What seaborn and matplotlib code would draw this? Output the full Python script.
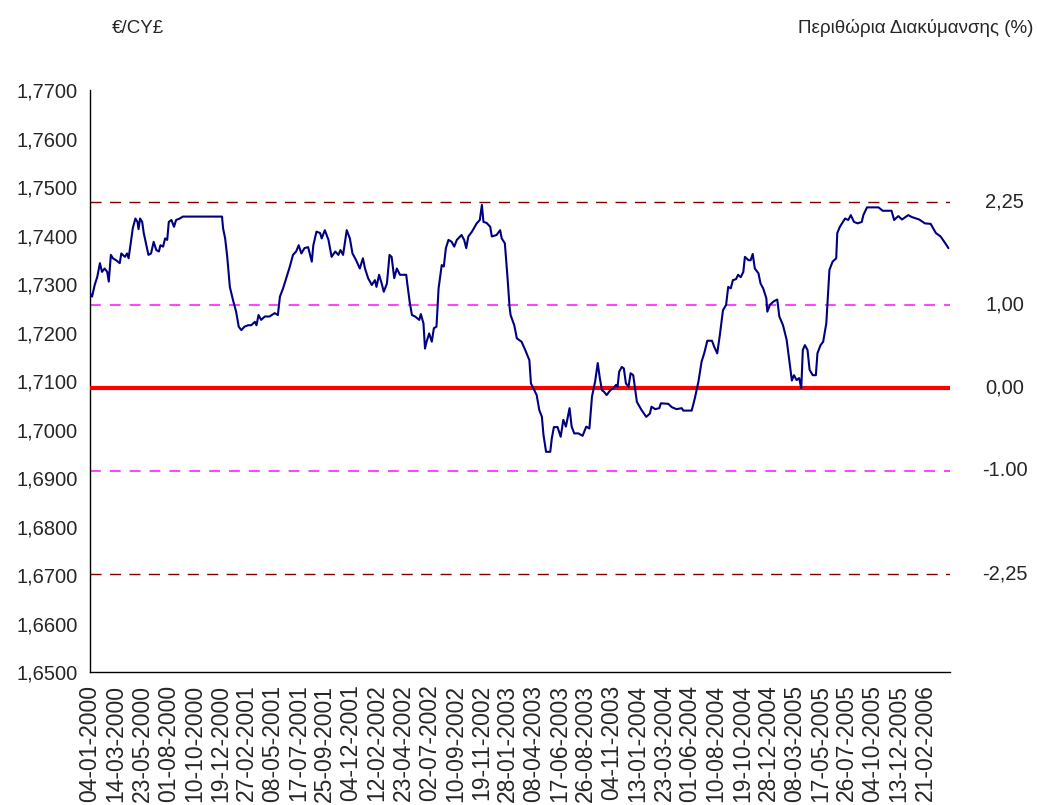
import numpy as np
import pandas as pd
import seaborn as sns
import matplotlib.pyplot as plt
import matplotlib.transforms as mtransforms
from matplotlib.ticker import FuncFormatter

# trading day number (0 = 04-01-2000) and €/CY£ rate
day = [0, 4, 9, 14, 19, 23, 28, 33, 36, 40, 44, 50, 57, 60, 67, 71, 74, 78, 82, 87,
       91, 93, 96, 100, 103, 108, 112, 117, 122, 127, 132, 135, 140, 144, 148, 151, 156, 161, 165, 172,
       178, 253, 255, 259, 263, 268, 274, 280, 285, 290, 296, 303, 309, 316, 319, 323, 328, 335, 344, 354,
       360, 364, 370, 376, 383, 389, 395, 400, 405, 411, 418, 425, 428, 434, 441, 444, 450, 457, 463, 470,
       476, 480, 485, 492, 498, 503, 510, 517, 523, 527, 533, 540, 546, 549, 554, 559, 563, 569, 574, 578,
       583, 588, 594, 606, 608, 613, 617, 623, 631, 634, 639, 642, 645, 650, 655, 659, 664, 668, 674, 678,
       682, 687, 693, 698, 703, 712, 717, 721, 725, 732, 741, 747, 751, 754, 760, 767, 770, 779, 786, 789,
       795, 800, 804, 806, 813, 818, 827, 834, 842, 845, 856, 861, 866, 869, 874, 882, 885, 889, 896, 902,
       907, 912, 919, 923, 928, 936, 944, 951, 957, 962, 968, 973, 977, 981, 985, 990, 997, 1003, 1008, 1011,
       1014, 1019, 1023, 1027, 1032, 1036, 1041, 1048, 1057, 1066, 1073, 1076, 1083, 1091, 1094, 1108, 1115, 1124, 1134, 1137,
       1153, 1159, 1166, 1172, 1177, 1183, 1192, 1196, 1202, 1207, 1213, 1219, 1223, 1228, 1232, 1238, 1242, 1247, 1252, 1255,
       1262, 1266, 1270, 1274, 1281, 1285, 1290, 1296, 1298, 1303, 1310, 1317, 1321, 1328, 1335, 1340, 1345, 1349, 1354, 1359,
       1363, 1366, 1370, 1375, 1379, 1385, 1391, 1394, 1400, 1405, 1411, 1417, 1423, 1430, 1432, 1437, 1443, 1447, 1453, 1458,
       1464, 1471, 1479, 1482, 1489, 1511, 1519, 1536, 1541, 1549, 1556, 1568, 1575, 1589, 1600, 1611, 1621, 1630, 1639, 1645]
rate = [1.7281, 1.7274, 1.7298, 1.7315, 1.7343, 1.7325, 1.7332, 1.7325, 1.7305, 1.7360, 1.7353, 1.7349, 1.7343, 1.7363, 1.7356, 1.7363, 1.7353, 1.7384, 1.7415, 1.7435,
        1.7428, 1.7413, 1.7435, 1.7428, 1.7405, 1.7380, 1.7360, 1.7363, 1.7387, 1.7370, 1.7367, 1.7380, 1.7377, 1.7394, 1.7391, 1.7428, 1.7432, 1.7418, 1.7432, 1.7435,
        1.7439, 1.7439, 1.7415, 1.7394, 1.7356, 1.7294, 1.7267, 1.7243, 1.7212, 1.7205, 1.7212, 1.7215, 1.7215, 1.7222, 1.7215, 1.7236, 1.7226, 1.7233, 1.7233, 1.7240,
        1.7236, 1.7274, 1.7291, 1.7312, 1.7336, 1.7360, 1.7367, 1.7380, 1.7363, 1.7374, 1.7376, 1.7346, 1.7380, 1.7408, 1.7405, 1.7394, 1.7411, 1.7391, 1.7356, 1.7367,
        1.7360, 1.7370, 1.7360, 1.7411, 1.7394, 1.7363, 1.7349, 1.7332, 1.7353, 1.7332, 1.7312, 1.7298, 1.7308, 1.7294, 1.7319, 1.7301, 1.7284, 1.7301, 1.7360, 1.7356,
        1.7312, 1.7332, 1.7319, 1.7319, 1.7301, 1.7260, 1.7236, 1.7233, 1.7226, 1.7238, 1.7219, 1.7167, 1.7181, 1.7198, 1.7181, 1.7209, 1.7212, 1.7291, 1.7339, 1.7336,
        1.7374, 1.7391, 1.7387, 1.7377, 1.7391, 1.7401, 1.7391, 1.7374, 1.7398, 1.7408, 1.7425, 1.7432, 1.7463, 1.7428, 1.7426, 1.7418, 1.7398, 1.7401, 1.7411, 1.7394,
        1.7384, 1.7315, 1.7253, 1.7236, 1.7215, 1.7188, 1.7181, 1.7164, 1.7143, 1.7095, 1.7071, 1.7040, 1.7026, 1.6989, 1.6954, 1.6954, 1.6982, 1.7005, 1.7005, 1.6985,
        1.7020, 1.7006, 1.7044, 1.7006, 1.6992, 1.6992, 1.6987, 1.7006, 1.7002, 1.7068, 1.7099, 1.7137, 1.7106, 1.7081, 1.7078, 1.7071, 1.7081, 1.7085, 1.7092, 1.7088,
        1.7119, 1.7129, 1.7126, 1.7095, 1.7088, 1.7116, 1.7112, 1.7057, 1.7040, 1.7026, 1.7033, 1.7047, 1.7042, 1.7044, 1.7054, 1.7053, 1.7046, 1.7042, 1.7044, 1.7039,
        1.7039, 1.7064, 1.7099, 1.7140, 1.7157, 1.7183, 1.7183, 1.7171, 1.7157, 1.7195, 1.7246, 1.7257, 1.7294, 1.7291, 1.7308, 1.7310, 1.7319, 1.7314, 1.7325, 1.7356,
        1.7349, 1.7349, 1.7362, 1.7332, 1.7322, 1.7301, 1.7291, 1.7271, 1.7243, 1.7257, 1.7264, 1.7268, 1.7233, 1.7215, 1.7185, 1.7143, 1.7101, 1.7112, 1.7102, 1.7106,
        1.7085, 1.7164, 1.7174, 1.7164, 1.7123, 1.7112, 1.7112, 1.7157, 1.7174, 1.7181, 1.7219, 1.7329, 1.7346, 1.7353, 1.7405, 1.7418, 1.7428, 1.7435, 1.7432, 1.7442,
        1.7428, 1.7425, 1.7428, 1.7442, 1.7458, 1.7458, 1.7451, 1.7451, 1.7432, 1.7440, 1.7433, 1.7442, 1.7438, 1.7433, 1.7425, 1.7424, 1.7405, 1.7398, 1.7384, 1.7374]

# one label every 50 trading days
date_labels = ['04-01-2000', '14-03-2000', '23-05-2000', '01-08-2000', '10-10-2000', '19-12-2000',
               '27-02-2001', '08-05-2001', '17-07-2001', '25-09-2001', '04-12-2001', '12-02-2002',
               '23-04-2002', '02-07-2002', '10-09-2002', '19-11-2002', '28-01-2003', '08-04-2003',
               '17-06-2003', '26-08-2003', '04-11-2003', '13-01-2004', '23-03-2004', '01-06-2004',
               '10-08-2004', '19-10-2004', '28-12-2004', '08-03-2005', '17-05-2005', '26-07-2005',
               '04-10-2005', '13-12-2005', '21-02-2006']

# fluctuation band around the central rate
band_level = [1.7470, 1.7257, 1.7086, 1.6915, 1.6702]
band_label = ['2,25', '1,00', '0,00', '-1.00', '-2,25']
band_color = ['#800000', '#FF33FF', '#FF0000', '#FF33FF', '#800000']

df = pd.DataFrame({'day': day, 'rate': rate})

sns.set_style('white')
plt.rcParams['font.family'] = ['Liberation Sans', 'DejaVu Sans']

fig = plt.figure(figsize=(10.38, 8.05), dpi=100)
ax = fig.add_axes([0.0867, 0.1652, 0.8285, 0.7230])

for lvl, col in zip(band_level, band_color):
    if col == '#FF0000':
        ax.axhline(lvl, color=col, lw=3, zorder=3)
    elif col == '#800000':
        ax.axhline(lvl, color=col, lw=1, ls=(0, (8, 6)), zorder=1)
    else:
        ax.axhline(lvl, color=col, lw=1.3, ls=(0, (6, 5)), zorder=1)

sns.lineplot(data=df, x='day', y='rate', color='#000080', lw=1.5, ax=ax, zorder=4)

ax.set_xlim(0, 1648)
ax.set_ylim(1.65, 1.77)
ax.set_yticks(np.arange(1.65, 1.7701, 0.01))
ax.yaxis.set_major_formatter(FuncFormatter(lambda v, p: f'{v:.4f}'.replace('.', ',')))
ax.set_xticks(np.arange(len(date_labels)) * 50)
ax.set_xticklabels(date_labels, rotation=90)
ax.tick_params(axis='both', direction='out', length=5, width=1, color='black', labelsize=14.5)
ax.tick_params(axis='x', labelsize=16.5, pad=4)
ax.tick_params(axis='y', pad=4)
ax.set_xlabel('')
ax.set_ylabel('')
for s in ['top', 'right']:
    ax.spines[s].set_visible(False)
for s in ['left', 'bottom']:
    ax.spines[s].set_color('black')
    ax.spines[s].set_linewidth(1)

trans = mtransforms.blended_transform_factory(fig.transFigure, ax.transData)
for lvl, lab in zip(band_level, band_label):
    ax.text(0.968, lvl, lab, transform=trans, ha='center', va='center', fontsize=14.5, clip_on=False)

fig.text(0.108, 0.965, '€/CY£', ha='left', va='center', fontsize=13.5)
fig.text(0.996, 0.965, 'Περιθώρια Διακύμανσης (%)', ha='right', va='center', fontsize=13.5)

plt.savefig('out.png', dpi=100)
